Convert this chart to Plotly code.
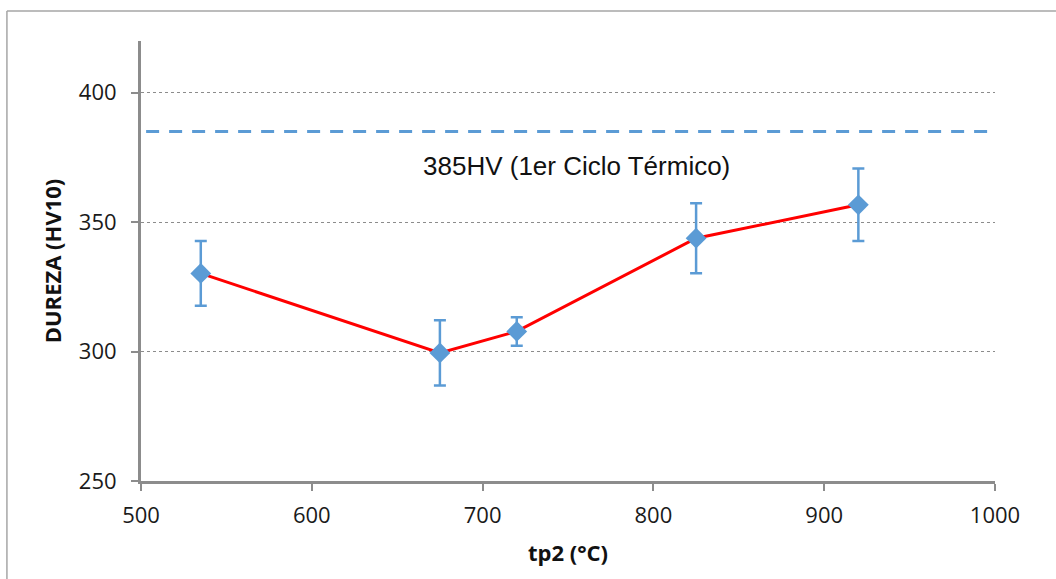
import plotly.graph_objects as go

temps = [535, 675, 720, 825, 920]
hardness = [330.2, 299.5, 307.8, 343.8, 356.7]
errors = [12.5, 12.6, 5.5, 13.5, 14.0]
ref_value = 385
ref_label = "385HV (1er Ciclo Térmico)"
x_ticks = [500, 600, 700, 800, 900, 1000]
y_ticks = [250, 300, 350, 400]

blue = "#5b9bd5"
gray = "#8c8c8c"
tick_font = dict(family="Open Sans, Liberation Sans, Arial", size=22, color="#1a1a1a")

fig = go.Figure()
fig.add_trace(go.Scatter(
    x=temps, y=hardness, mode="lines+markers",
    line=dict(color="#ff0000", width=3),
    marker=dict(symbol="diamond", size=16, color=blue),
    error_y=dict(type="data", array=errors, visible=True, color=blue, thickness=2.5, width=6),
    showlegend=False,
))

fig.add_shape(type="line", xref="x", yref="y", x0=503, x1=1000, y0=ref_value, y1=ref_value,
              line=dict(color=blue, width=3, dash="13px,10px"))
fig.add_annotation(x=755, y=ref_value, xref="x", yref="y", yshift=-34, text=ref_label,
                   showarrow=False, font=dict(family="Liberation Sans, Arial", size=26, color="#111"))

# outer chart border (top and left edges visible)
fig.add_shape(type="line", xref="paper", yref="paper", x0=-0.157, x1=1.0714, y0=1.068, y1=1.068,
              line=dict(color="#a6a6a6", width=1.5))
fig.add_shape(type="line", xref="paper", yref="paper", x0=-0.157, x1=-0.157, y0=1.068, y1=-0.223,
              line=dict(color="#a6a6a6", width=1.5))

fig.update_layout(
    width=1056, height=579,
    margin=dict(l=141, r=61, t=41, b=98),
    paper_bgcolor="white", plot_bgcolor="white",
    xaxis=dict(range=[500, 1000], tickvals=x_ticks, showgrid=False, zeroline=False,
               showline=True, linecolor=gray, linewidth=3, ticks="outside", ticklen=7,
               tickwidth=2, tickcolor=gray, tickfont=tick_font, ticklabelstandoff=6,
               title=dict(text="<b>tp2 (°C)</b>", font=dict(family="Open Sans, Liberation Sans, Arial", size=22, color="#111"), standoff=18)),
    yaxis=dict(range=[250, 420], tickvals=y_ticks, showgrid=True, gridcolor=gray, gridwidth=1,
               griddash="3px,3px", zeroline=False, showline=True, linecolor=gray, linewidth=3,
               ticks="outside", ticklen=7, tickwidth=2, tickcolor=gray, tickfont=tick_font,
               ticklabelstandoff=10,
               title=dict(text="<b>DUREZA (HV10)</b>", font=dict(family="Open Sans, Liberation Sans, Arial", size=22, color="#111"), standoff=12)),
)

fig.write_html("out.html")
